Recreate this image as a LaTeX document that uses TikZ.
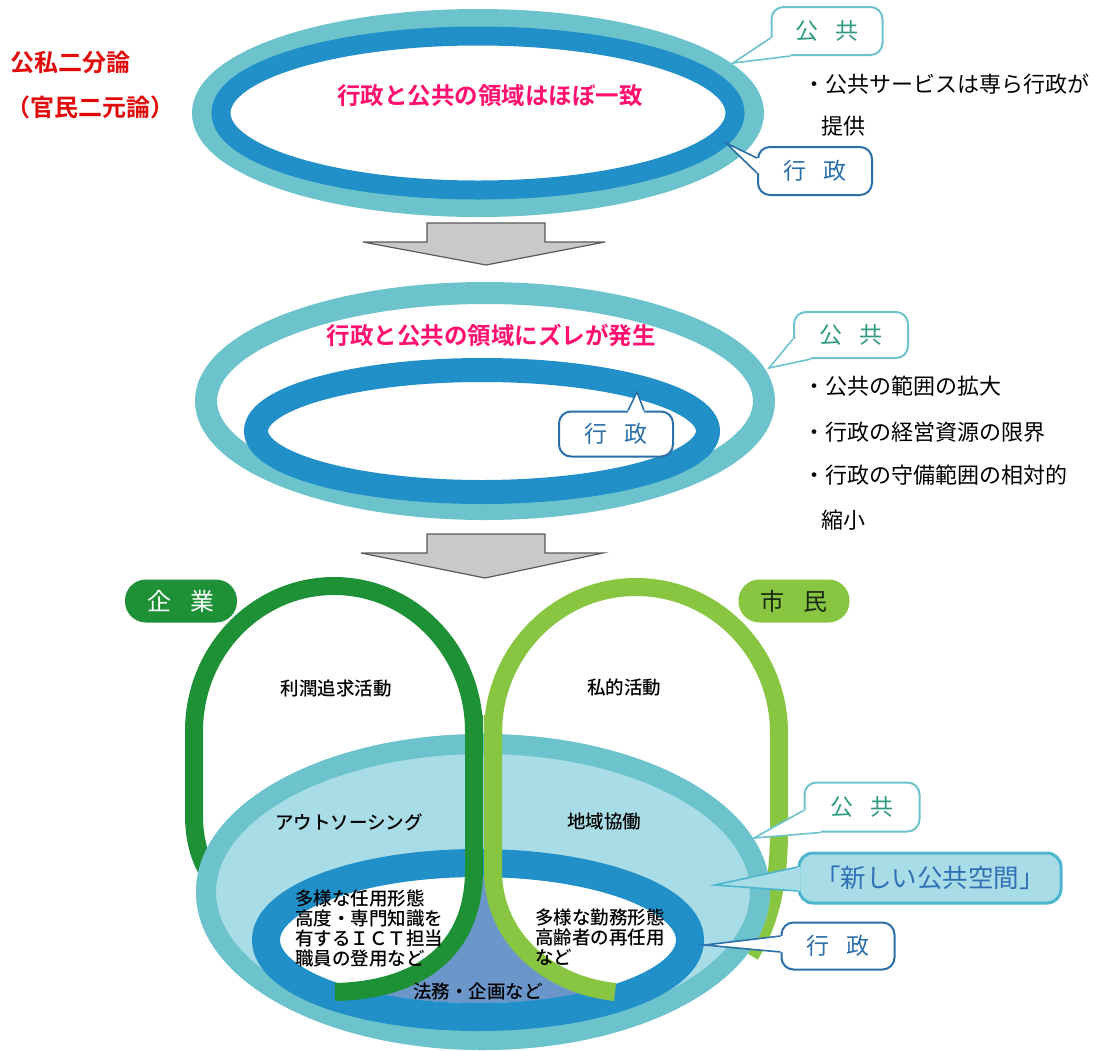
\documentclass[tikz,border=0pt]{standalone}
\usepackage{fontspec}
\setmainfont{Noto Sans CJK JP}[BoldFont={Noto Sans CJK JP Bold}]
\newfontfamily\medfont{Noto Sans CJK JP Medium}
\usetikzlibrary{calc}
\definecolor{tealring}{HTML}{6DC3CC}
\definecolor{darkring}{HTML}{2190C9}
\definecolor{lightfill}{HTML}{A8DCE6}
\definecolor{lensfill}{HTML}{6A96CA}
\definecolor{dgreen}{HTML}{1E9137}
\definecolor{lgreen}{HTML}{88C540}
\definecolor{pinktxt}{HTML}{FF1070}
\definecolor{redtxt}{HTML}{E00A0A}
\definecolor{pubtext}{HTML}{2E9A82}
\definecolor{govline}{HTML}{2A6FA8}
\definecolor{newline}{HTML}{4DB6CE}
\definecolor{newtext}{HTML}{3170B5}
\definecolor{arrowfill}{HTML}{C9C9C9}
\definecolor{arrowline}{HTML}{5A5A5A}
\definecolor{badgetxt}{HTML}{1A2A12}
\newcommand\myfs[1]{\fontsize{#1}{#1}\selectfont}
\newcommand\calltail[7]{\fill[#6] #1 -- #2 -- #3 -- #4 -- #5 -- cycle;
  \draw[#7, line width=1.6pt, line join=miter, miter limit=30] #2 -- #3 -- #4;}
\begin{document}
\begin{tikzpicture}[x=1pt,y=-1pt,
  txt/.style={inner sep=0pt, outer sep=0pt},
  callbox/.style={draw, line width=2pt, rounded corners=12pt, fill=white, inner sep=0pt, font=\myfs{23}},
  pubbox/.style={callbox, draw=tealring, text=pubtext},
  govbox/.style={callbox, draw=govline, text=govline},
  pinklabel/.style={txt, text=pinktxt, font=\myfs{23.5}\bfseries},
  redlabel/.style={txt, text=redtxt, font=\myfs{24}\bfseries, anchor=west},
  bullet/.style={txt, anchor=west, font=\myfs{22}},
  inlabel/.style={txt, font=\myfs{18.5}\medfont},
  blocklabel/.style={txt, font=\fontsize{18.5}{20}\selectfont\medfont, align=left, anchor=west},
  blockarrow/.style={fill=arrowfill, draw=arrowline, line width=1.2pt, line join=miter},
  badge/.style={rounded corners=21pt, inner sep=0pt, minimum width=112pt, minimum height=43pt, font=\myfs{24}}
]
\useasboundingbox (0,0) rectangle (1110,1050);
\fill[white] (0,0) rectangle (1110,1050);

% ---------- stage 1 ----------
\draw[tealring, line width=20pt] (478,113) ellipse [x radius=276pt, y radius=94pt];
\draw[darkring, line width=19pt] (478,113) ellipse [x radius=257pt, y radius=77pt];
\node[pinklabel] (s1t) at (490,96) {行政と公共の領域はほぼ一致};
\node[redlabel] (r1) at (10,62) {公私二分論};
\node[redlabel] (r2) at (6,107) {（官民二元論）};

\node[pubbox, minimum width=111pt, minimum height=48pt] (k1) at (827,31) {公\hspace{18pt}共};
\calltail{($(k1.south west)+(2.5,-18)$)}{($(k1.south west)+(0,-18)$)}{(733,63)}{($(k1.south west)+(20,0)$)}{($(k1.south west)+(20,-2.5)$)}{white}{tealring}
\node[govbox, minimum width=114pt, minimum height=48pt] (g1) at (815,171) {行\hspace{18pt}政};
\calltail{($(g1.north west)+(2.5,12)$)}{($(g1.north west)+(0,12)$)}{(726,143)}{($(g1.north west)+(0,27)$)}{($(g1.north west)+(2.5,27)$)}{white}{govline}

\node[bullet] (b1) at (803,84) {・公共サービスは専ら行政が};
\node[bullet] (b1b) at (821,126) {提供};

\draw[blockarrow] (427,223) -- (545,223) -- (545,242) -- (605,242) -- (486,265) -- (363,242) -- (427,242) -- cycle;

% ---------- stage 2 ----------
\draw[tealring, line width=22pt] (485,401) ellipse [x radius=279pt, y radius=108pt];
\draw[darkring, line width=24pt] (482,431) ellipse [x radius=226pt, y radius=61pt];
\node[pinklabel] (s2t) at (491,335) {行政と公共の領域にズレが発生};

\node[pubbox, minimum width=114pt, minimum height=46pt] (k2) at (851,335) {公\hspace{18pt}共};
\calltail{($(k2.south west)+(2.5,-20)$)}{($(k2.south west)+(0,-20)$)}{(769,368)}{($(k2.south west)+(18,0)$)}{($(k2.south west)+(18,-2.5)$)}{white}{tealring}
\node[govbox, minimum width=114pt, minimum height=45pt] (g2) at (616,434) {行\hspace{18pt}政};
\calltail{($(g2.north west)+(70,2.5)$)}{($(g2.north west)+(70,0)$)}{(637,392)}{($(g2.north west)+(86,0)$)}{($(g2.north west)+(86,2.5)$)}{white}{govline}

\node[bullet] (b2) at (803,386) {・公共の範囲の拡大};
\node[bullet] (b3) at (803,432) {・行政の経営資源の限界};
\node[bullet] (b4) at (803,475) {・行政の守備範囲の相対的};
\node[bullet] (b4b) at (821,520) {縮小};

\draw[blockarrow] (427,534) -- (545,534) -- (545,553) -- (603,553) -- (485,578) -- (361,553) -- (427,553) -- cycle;

% ---------- stage 3 ----------
% loops (under)
\draw[dgreen, line width=18pt] (230,900) .. controls (205,875) and (194,850) .. (194,815) -- (194,731) arc[start angle=180, end angle=0, x radius=140pt, y radius=145pt] -- (474,870);
\draw[lgreen, line width=18pt] (750,955) .. controls (768,925) and (779,890) .. (779,830) -- (779,733) arc[start angle=0, end angle=180, x radius=143pt, y radius=146pt] -- (493,870);
% public space ellipse
\fill[lightfill] (483,892) ellipse [x radius=287pt, y radius=158pt];
\draw[tealring, line width=20pt] (483,892) ellipse [x radius=277pt, y radius=148pt];
\fill[white] (478,940) ellipse [x radius=198pt, y radius=63pt];
\begin{scope}
\clip (478,940) ellipse [x radius=198pt, y radius=63pt];
\fill[lensfill] (474,850) -- (474,870) .. controls (474,950) and (420,990) .. (335,992) -- (335,1015) -- (615,1015) -- (615,992) .. controls (550,985) and (493,940) .. (493,870) -- (493,850) -- cycle;
\end{scope}
\draw[darkring, line width=28pt] (478,940) ellipse [x radius=212pt, y radius=77pt];
% loops (over)
\draw[dgreen, line width=18pt] (474,715) -- (474,870) .. controls (474,950) and (420,990) .. (335,992);
\draw[lgreen, line width=18pt] (493,715) -- (493,870) .. controls (493,940) and (550,985) .. (615,992);

\node[badge, fill=dgreen, text=white] (kigyo) at (181,601) {企\hspace{19pt}業};
\node[badge, fill=lgreen, text=badgetxt, minimum width=111pt] (shimin) at (794,601) {市\hspace{19pt}民};

\node[inlabel] (l1) at (336,688) {利潤追求活動};
\node[inlabel] (l2) at (624,687) {私的活動};
\node[inlabel] (l3) at (349,822) {アウトソーシング};
\node[inlabel] (l4) at (604,822) {地域協働};
\node[blocklabel] (l5) at (295,928) {多様な任用形態\\高度・専門知識を\\有するＩＣＴ担当\\職員の登用など};
\node[blocklabel] (l6) at (535,937) {多様な勤務形態\\高齢者の再任用\\など};
\node[inlabel] (l7) at (478,991) {法務・企画など};

\node[pubbox, minimum width=115pt, minimum height=49pt] (k3) at (862,807) {公\hspace{18pt}共};
\calltail{($(k3.south west)+(2.5,-22)$)}{($(k3.south west)+(0,-22)$)}{(754,838)}{($(k3.south west)+(17,0)$)}{($(k3.south west)+(17,-2.5)$)}{white}{tealring}
\node[callbox, draw=newline, line width=3pt, fill=lightfill, text=newtext, rounded corners=14pt, minimum width=262pt, minimum height=50pt, font=\myfs{25.5}] (nk) at (930,878) {「新しい公共空間」};
\calltail{($(nk.west)+(3,-11)$)}{($(nk.west)+(0,-11)$)}{(715,885)}{($(nk.west)+(0,13)$)}{($(nk.west)+(3,13)$)}{lightfill}{newline}
\node[govbox, minimum width=113pt, minimum height=47pt] (g3) at (838,946) {行\hspace{18pt}政};
\calltail{($(g3.west)+(2.5,-10)$)}{($(g3.west)+(0,-10)$)}{(705,945)}{($(g3.west)+(0,6)$)}{($(g3.west)+(2.5,6)$)}{white}{govline}
\end{tikzpicture}
\end{document}
